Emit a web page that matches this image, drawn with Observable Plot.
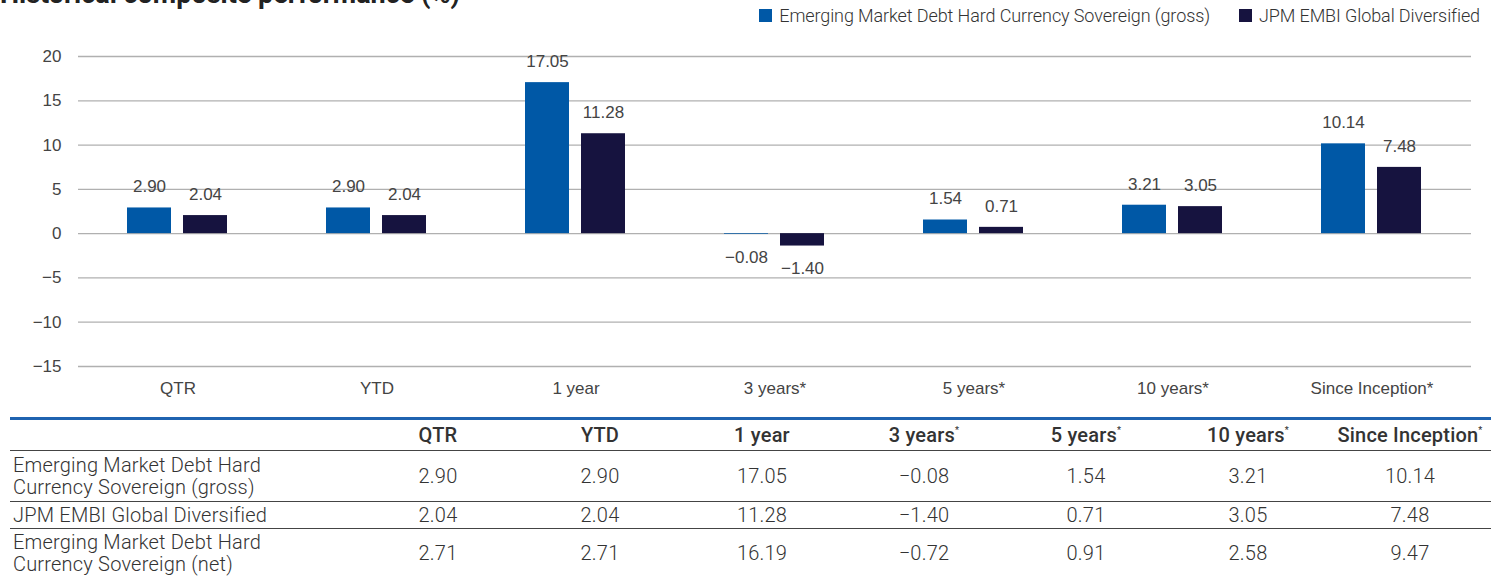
<!DOCTYPE html>
<html>
<head>
<meta charset="utf-8">
<script src="https://cdn.jsdelivr.net/npm/d3@7"></script>
<script src="https://cdn.jsdelivr.net/npm/@observablehq/plot@0.6"></script>
<style>
  html, body { margin:0; padding:0; background:#fff; width:1496px; height:576px; overflow:hidden; position:relative; }
  #title { position:absolute; left:0; top:-21px; font-family:Roboto, "Noto Sans", sans-serif; font-weight:700; font-size:27px; line-height:30px; color:#222; white-space:nowrap; }
  #legend { position:absolute; right:16px; top:5px; display:flex; align-items:center; font-family:Roboto, sans-serif; font-weight:300; font-size:18px; color:#333; letter-spacing:-0.1px; white-space:nowrap; }
  #legend .sw { width:13px; height:13px; display:inline-block; margin-right:7px; }
  #legend .item { display:flex; align-items:center; margin-left:29px; }
  #chart { position:absolute; left:0; top:0; }
  #tbl { position:absolute; left:10px; top:417px; border-collapse:collapse; font-family:Roboto, sans-serif; font-weight:300; font-size:20px; color:#333; letter-spacing:0.2px; }
  #tbl td, #tbl th { padding:0; text-align:center; }
  #tbl th { font-weight:500; height:30px; border-top:3px solid #1f63b0; border-bottom:1.5px solid #444; }
  #tbl td.name { text-align:left; padding-left:3px; line-height:22px; }
  #tbl tr.r td { border-bottom:1.5px solid #444; }
  #tbl sup { font-size:9px; vertical-align:top; position:relative; top:2px; }
</style>
</head>
<body>
<div id="title">Historical composite performance (%)</div>
<div id="legend"></div>
<div id="chart"></div>
<table id="tbl"></table>
<script>
const categories = ["QTR", "YTD", "1 year", "3 years*", "5 years*", "10 years*", "Since Inception*"];
const seriesNames = ["Emerging Market Debt Hard Currency Sovereign (gross)", "JPM EMBI Global Diversified"];
const grossValues = [2.90, 2.90, 17.05, -0.08, 1.54, 3.21, 10.14];
const benchmarkValues = [2.04, 2.04, 11.28, -1.40, 0.71, 3.05, 7.48];
const netValues = [2.71, 2.71, 16.19, -0.72, 0.91, 2.58, 9.47];
const seriesColors = ["#0058a6", "#16133f"];
const yTicks = [-15, -10, -5, 0, 5, 10, 15, 20];

const tableHeaders = ["QTR", "YTD", "1 year", "3 years", "5 years", "10 years", "Since Inception"];
const tableStars = [false, false, false, true, true, true, true];
const tableRowNames = [
  "Emerging Market Debt Hard<br>Currency Sovereign (gross)",
  "JPM EMBI Global Diversified",
  "Emerging Market Debt Hard<br>Currency Sovereign (net)"
];

const data = [];
categories.forEach((c, i) => {
  data.push({cat: c, series: seriesNames[0], value: grossValues[i]});
  data.push({cat: c, series: seriesNames[1], value: benchmarkValues[i]});
});
const fmt = v => v.toFixed(2).replace("-", "\u2212");

const chart = Plot.plot({
  width: 1496,
  height: 410,
  marginTop: 56,
  marginBottom: 44,
  marginLeft: 77,
  marginRight: 24,
  style: {fontFamily: "'Liberation Sans', Arial, sans-serif", fontSize: "17px", color: "#444", background: "transparent"},
  fx: {domain: categories, padding: 0, label: null, axis: "bottom", tickSize: 0, tickPadding: 15},
  x: {domain: seriesNames, paddingInner: 0.21, paddingOuter: 0.853, axis: null},
  y: {domain: [-15, 20], ticks: yTicks, tickSize: 0, tickPadding: 17, label: null, tickFormat: d => String(d).replace("-", "\u2212")},
  color: {domain: seriesNames, range: seriesColors},
  marks: [
    Plot.ruleY(yTicks, {stroke: "#b0b0b0", strokeWidth: 1.3}),
    Plot.barY(data, {fx: "cat", x: "series", y: "value", fill: "series"}),
    Plot.text(data.filter(d => d.value >= 0), {fx: "cat", x: "series", y: "value", text: d => fmt(d.value), dy: -21, fill: "#444", fontSize: 17}),
    Plot.text(data.filter(d => d.value < 0), {fx: "cat", x: "series", y: "value", text: d => fmt(d.value), dy: 23, fill: "#444", fontSize: 17})
  ]
});
document.getElementById("chart").appendChild(chart);

// legend
const legend = document.getElementById("legend");
seriesNames.forEach((s, i) => {
  const it = document.createElement("div");
  it.className = "item";
  it.innerHTML = `<span class="sw" style="background:${seriesColors[i]}"></span><span>${s}</span>`;
  legend.appendChild(it);
});

// table
const tbl = document.getElementById("tbl");
let html = `<tr><th style="width:347px"></th>` + tableHeaders.map((h, i) =>
  `<th style="width:162px">${h}${tableStars[i] ? "<sup>*</sup>" : ""}</th>`).join("") + `</tr>`;
const rowsVals = [grossValues, benchmarkValues, netValues];
const rowHeights = [51, 27, 48];
rowsVals.forEach((vals, r) => {
  html += `<tr class="${r < 2 ? "r" : ""}" style="height:${rowHeights[r]}px"><td class="name">${tableRowNames[r]}</td>` +
    vals.map(v => `<td>${v.toFixed(2).replace("-", "\u2212")}</td>`).join("") + `</tr>`;
});
tbl.innerHTML = html;
</script>
</body>
</html>
